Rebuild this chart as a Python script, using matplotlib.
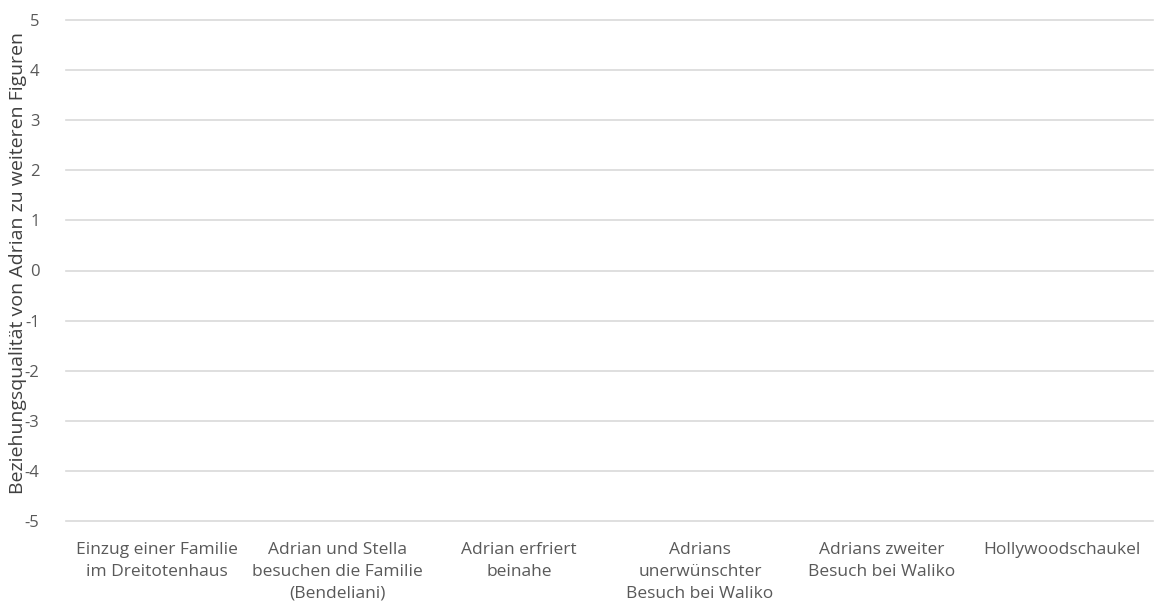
import matplotlib
matplotlib.use("Agg")
import matplotlib.pyplot as plt

# Kategorien (Szenen) und y-Skala
categories = [
    "Einzug einer Familie\nim Dreitotenhaus",
    "Adrian und Stella\nbesuchen die Familie\n(Bendeliani)",
    "Adrian erfriert\nbeinahe",
    "Adrians\nunerwünschter\nBesuch bei Waliko",
    "Adrians zweiter\nBesuch bei Waliko",
    "Hollywoodschaukel",
]
# keine Werte eingetragen - das Diagramm ist leer
values = [None, None, None, None, None, None]
y_ticks = [-5, -4, -3, -2, -1, 0, 1, 2, 3, 4, 5]
y_label = "Beziehungsqualität von Adrian zu weiteren Figuren"

plt.rcParams['font.family'] = ['Open Sans', 'DejaVu Sans']
text_col = "#595959"
grid_col = "#d9d9d9"

fig = plt.figure(figsize=(11.55, 6.1), dpi=100)
ax = fig.add_axes([66 / 1155, 1 - 521 / 610, (1153 - 66) / 1155, (521 - 20) / 610])

x = list(range(len(categories)))
ax.plot(x, [float("nan") if v is None else v for v in values])

ax.set_xlim(-0.5, len(categories) - 0.5)
ax.set_ylim(-5, 5)
ax.set_yticks(y_ticks)
ax.set_yticklabels([str(t) for t in y_ticks])
ax.set_xticks(x)
ax.set_xticklabels(categories, fontsize=12.5, color=text_col, linespacing=1.5)

ax.tick_params(axis="y", length=0, pad=19, labelsize=12, labelcolor=text_col)
ax.tick_params(axis="x", length=0, pad=15)

for s in ax.spines.values():
    s.set_visible(False)
ax.grid(axis="y", color=grid_col, linewidth=1.2)
for gl in ax.get_ygridlines():
    gl.set_clip_on(False)
ax.set_axisbelow(True)

ax.set_ylabel(y_label, fontsize=14, color="#404040")
ax.yaxis.label.set_verticalalignment("center")
ax.yaxis.label.set_horizontalalignment("center")
ax.yaxis.set_label_coords(-48 / 1087, 0.515)

fig.savefig("out.png", dpi=100, facecolor="white")
